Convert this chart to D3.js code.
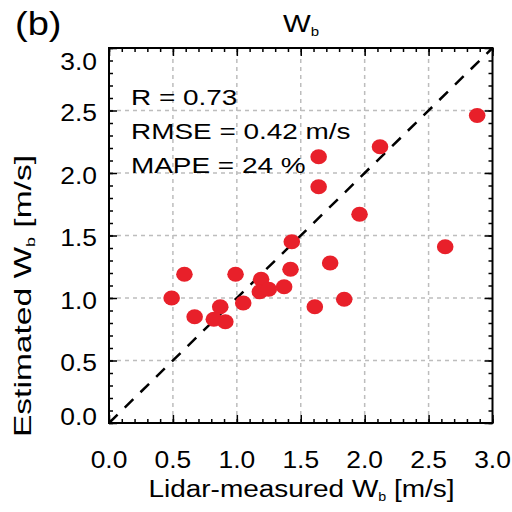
<!DOCTYPE html>
<html><head><meta charset="utf-8">
<script src="https://cdn.jsdelivr.net/npm/d3@7"></script>
<style>body{margin:0;background:#fff}svg{display:block}text{font-family:"Liberation Sans",Arial,Helvetica,sans-serif;fill:#000}</style>
</head><body>
<script>
const lidarWb = [2.88,1.64,2.12,1.64,1.96,1.43,2.63,1.73,1.42,1.37,1.84,1.61,0.59,0.99,0.49,1.19,1.18,1.25,1.05,0.67,0.87,0.82,0.91];
const estWb   = [2.46,2.13,2.21,1.89,1.67,1.45,1.41,1.28,1.23,1.09,0.99,0.93,1.19,1.19,1.00,1.15,1.05,1.07,0.96,0.85,0.93,0.83,0.81];
const tickVals = [0,0.5,1.0,1.5,2.0,2.5,3.0];
const stats = ["R = 0.73","RMSE = 0.42 m/s","MAPE = 24 %"];

const W=512,H=512;
const svg=d3.select("body").append("svg").attr("width",W).attr("height",H);
const x=d3.scaleLinear().domain([0,3]).range([109,492.5]);
const y=d3.scaleLinear().domain([0,3]).range([423,48]);

// helper: stretched text
function stext(parent,tx,ty,sx,size,anchor,rot){
  const gg=parent.append("g").attr("transform",`translate(${tx},${ty})`+(rot?` rotate(${rot})`:"")+` scale(${sx},1)`);
  return gg.append("text").attr("font-size",size).attr("text-anchor",anchor||"start");
}

// grid
const g=svg.append("g");
tickVals.slice(1,-1).forEach(v=>{
  g.append("line").attr("x1",x(v)).attr("x2",x(v)).attr("y1",y(0)).attr("y2",y(3))
   .attr("stroke","#bdbdbd").attr("stroke-width",1.5).attr("stroke-dasharray","4,4");
  g.append("line").attr("y1",y(v)).attr("y2",y(v)).attr("x1",x(0)).attr("x2",x(3))
   .attr("stroke","#bdbdbd").attr("stroke-width",1.5).attr("stroke-dasharray","4,4");
});

// diagonal
svg.append("line").attr("x1",x(0)).attr("y1",y(0)).attr("x2",x(3)).attr("y2",y(3))
  .attr("stroke","#000").attr("stroke-width",2.5).attr("stroke-dasharray","12,10");

// points
svg.append("g").selectAll("ellipse").data(lidarWb).join("ellipse")
  .attr("cx",(d)=>x(d)).attr("cy",(d,i)=>y(estWb[i])).attr("rx",8.3).attr("ry",7.6)
  .attr("fill","#e8202a");

// axes with ticks inward
const minor=d3.range(0,3.0001,0.1);
const mk=(axisFn,scale,tr)=>{
  const a=svg.append("g").attr("transform",tr);
  a.call(axisFn(scale).tickValues(minor).tickSize(-4).tickFormat(""));
  const b=svg.append("g").attr("transform",tr);
  b.call(axisFn(scale).tickValues(tickVals).tickSize(-8).tickFormat(""));
  [a,b].forEach(s=>{s.select(".domain").remove();s.selectAll("line").attr("stroke","#000").attr("stroke-width",1.5);});
};
mk(d3.axisBottom,x,`translate(0,${y(0)})`);
mk(d3.axisTop,x,`translate(0,${y(3)})`);
mk(d3.axisLeft,y,`translate(${x(0)},0)`);
mk(d3.axisRight,y,`translate(${x(3)},0)`);

svg.append("rect").attr("x",x(0)).attr("y",y(3)).attr("width",x(3)-x(0)).attr("height",y(0)-y(3))
  .attr("fill","none").attr("stroke","#000").attr("stroke-width",2);

// tick labels
tickVals.forEach(d=>{
  stext(svg,x(d),468,1.1,24,"middle").text(d.toFixed(1));
  const cy=Math.min(Math.max(y(d)+2,y(3)+13),y(0)-7);
  stext(svg,97,cy+8.5,1.1,24,"end").text(d.toFixed(1));
});

// stats
stats.forEach((d,i)=>stext(svg,131,105+i*34,1.27,22,"start").text(d));

// titles
stext(svg,15,34.7,1.12,34,"start").text("(b)");
const t=stext(svg,301,31.7,1.25,23.5,"middle");
t.append("tspan").text("W");
t.append("tspan").attr("font-size",12).attr("dy",4).text("b");

const xl=stext(svg,301.5,496.7,1.19,23.5,"middle");
xl.append("tspan").text("Lidar-measured W");
xl.append("tspan").attr("font-size",12).attr("dy",4).text("b");
xl.append("tspan").attr("dy",-4).text(" [m/s]");

const yl=stext(svg,31,296,1.37,24.5,"middle",-90);
yl.append("tspan").text("Estimated W");
yl.append("tspan").attr("font-size",13).attr("dy",4).text("b");
yl.append("tspan").attr("dy",-4).text(" [m/s]");
</script>
</body></html>
